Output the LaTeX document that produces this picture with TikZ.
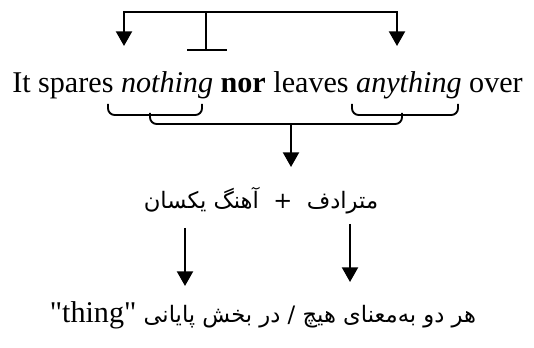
\documentclass[tikz,border=0pt]{standalone}
\usepackage{fontspec}
\setmainfont{Liberation Serif}
\newfontfamily\arabicfont[Script=Arabic]{DejaVu Sans}
\TeXXeTstate=1
\usetikzlibrary{arrows.meta}
\tikzstyle{pointer}=[-{Triangle[width=12pt,length=11pt]}, line width=1.6pt]
\tikzstyle{bracket}=[line width=1.4pt, rounded corners=5pt]
\tikzstyle{sentence}=[inner sep=0pt, anchor=base, font=\fontsize{22.6}{27}\selectfont]
\tikzstyle{persian}=[inner sep=0pt, anchor=base, font=\arabicfont\fontsize{17}{22}\selectfont]

\begin{document}
\begin{tikzpicture}[x=0.75pt,y=-0.75pt]
  \useasboundingbox (0,0) rectangle (534,348);
  %% The sentence
  \draw (267.5,93) node[sentence] (sent) {It spares \textit{nothing} \textbf{nor} leaves \textit{anything} over};

  %% Top bracket
  \coordinate (TL) at (124,12);
  \coordinate (TM) at (206,12);
  \coordinate (TR) at (397,12);
  \coordinate (AL) at (124,46);
  \coordinate (AR) at (397,46);
  \coordinate (TB) at (206,50);
  \coordinate (TBL) at (187,50);
  \coordinate (TBR) at (227,50);
  \draw[pointer] (TB) -- (TM) -- (TL) -- (AL);
  \draw[pointer] (TM) -- (TR) -- (AR);
  \draw[line width=1.4pt] (TBL) -- (TBR);

  %% Braces under the sentence
  \draw[bracket] (108,104) -- (108,115) -- (202,115) -- (202,104);
  \draw[bracket] (352,104) -- (352,115) -- (458,115) -- (458,104);
  \draw[bracket] (150,113) -- (150,124) -- (402,124) -- (402,113);
  \coordinate (BM) at (291,124);
  \coordinate (BA) at (291,167);
  \draw[pointer] (BM) -- (BA);

  %% Middle line
  \draw (261,209) node[persian] (mid) {\beginR مترادف \ + \ آهنگ یکسان\endR};

  %% Lower arrows
  \coordinate (L1) at (185,228);
  \coordinate (L2) at (185,286);
  \coordinate (R1) at (350,224);
  \coordinate (R2) at (350,282);
  \draw[pointer] (L1) -- (L2);
  \draw[pointer] (R1) -- (R2);

  %% Bottom line
  \draw (263,322) node[persian] (low) {\beginR هر دو به‌معنای هیچ / در بخش پایانی \beginL{\rmfamily\fontsize{22.6}{27}\selectfont\addfontfeatures{Ligatures=TeXOff}"thing"}\endL\endR};
\end{tikzpicture}
\end{document}
